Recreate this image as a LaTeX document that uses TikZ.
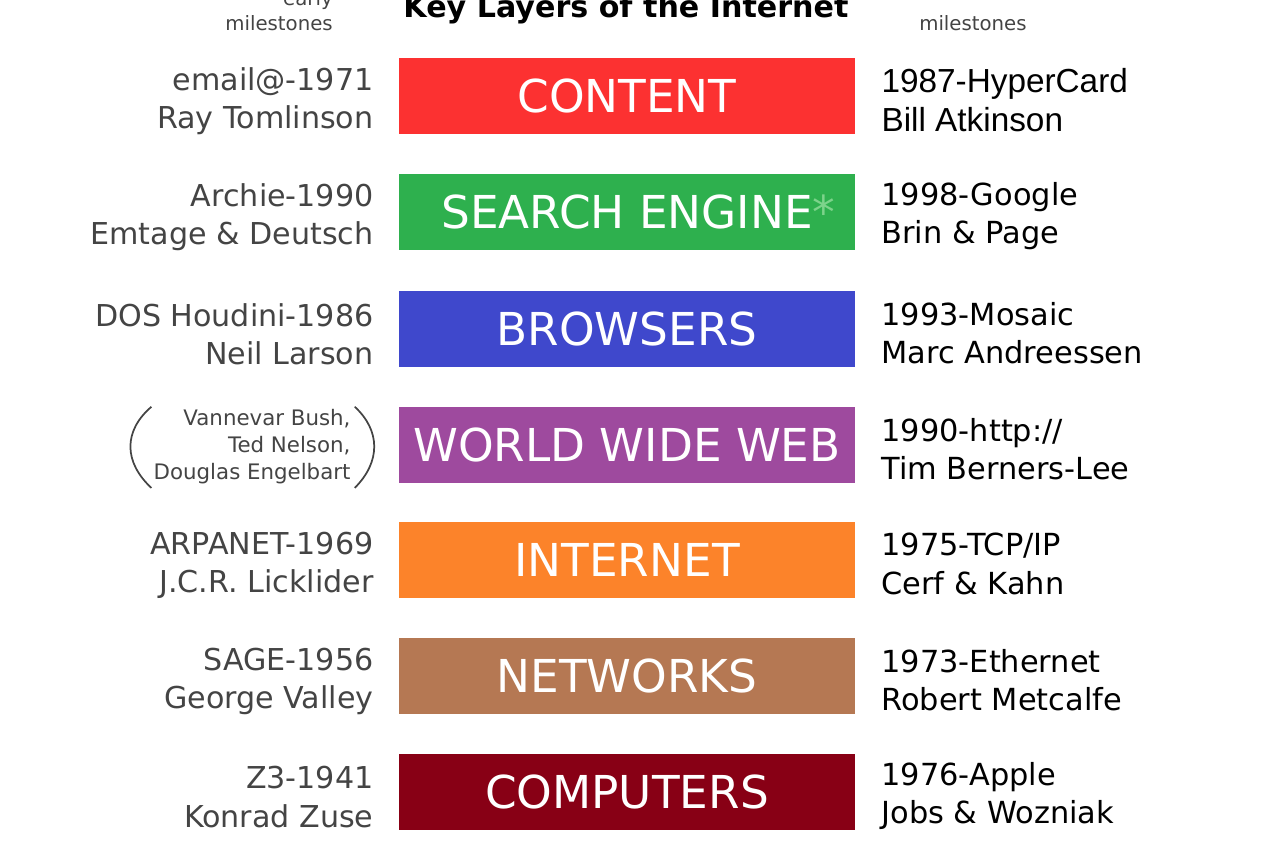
\documentclass[tikz,border=0pt]{standalone}
\usepackage{fontspec}
\setmainfont{DejaVu Sans}
\newfontfamily\arialfont{Liberation Sans}
\usepackage{xcolor}
\usetikzlibrary{positioning}

\definecolor{contentred}{HTML}{FC3131}
\definecolor{searchgreen}{HTML}{2EB04E}
\definecolor{starlight}{HTML}{7DD38B}
\definecolor{browserblue}{HTML}{3F48CC}
\definecolor{webpurple}{HTML}{9E4A9E}
\definecolor{netorange}{HTML}{FC832A}
\definecolor{networkbrown}{HTML}{B57853}
\definecolor{computerred}{HTML}{880015}
\definecolor{earlygray}{HTML}{444444}

\tikzset{
  layer/.style={minimum width=342pt,minimum height=57pt,inner sep=0pt,
    text=white,font=\fontsize{34}{40}\selectfont},
  early/.style={left=18.75pt of #1,align=right,inner sep=0pt,yshift=-4pt,
    text=earlygray,font=\fontsize{22.6}{29}\selectfont},
  later/.style={right=19.5pt of #1,align=left,inner sep=0pt,yshift=-3pt,
    text=black,font=\fontsize{22.8}{29}\selectfont},
  paren/.style={draw=earlygray,line width=1.3pt},
}

\begin{document}
\begin{tikzpicture}[x=0.75pt,y=-0.75pt]
\useasboundingbox (0,0) rectangle (1280,853);

% headings
\node[anchor=base,inner sep=0pt,font=\bfseries\fontsize{22.6}{26}\selectfont] (title) at (626,17) {Key Layers of the Internet};
\node[anchor=base east,align=right,inner sep=0pt,text=earlygray,font=\fontsize{14.8}{19.5}\selectfont] (earlyhead) at (333,31) {early\\milestones};
\node[anchor=base west,inner sep=0pt,text=earlygray,font=\fontsize{14.8}{19.5}\selectfont] (laterhead) at (919,31) {milestones};

% the seven layers
\node[layer,fill=contentred] (content) at (627,96) {CONTENT};
\node[layer,fill=searchgreen] (search) at (627,212) {SEARCH ENGINE\rlap{\textcolor{starlight}{*}}};
\node[layer,fill=browserblue] (browsers) at (627,329) {BROWSERS};
\node[layer,fill=webpurple] (www) at (627,445) {WORLD WIDE WEB};
\node[layer,fill=netorange] (internet) at (627,560) {INTERNET};
\node[layer,fill=networkbrown] (networks) at (627,676) {NETWORKS};
\node[layer,fill=computerred] (computers) at (627,792) {COMPUTERS};

% early milestones
\node[early=content] (email) {email@-1971\\Ray Tomlinson};
\node[early=search] (archie) {Archie-1990\\Emtage \& Deutsch};
\node[early=browsers] (houdini) {DOS Houdini-1986\\Neil Larson};
\node[early=internet] (arpanet) {ARPANET-1969\\J.C.R. Licklider};
\node[early=networks] (sage) {SAGE-1956\\George Valley};
\node[early=computers] (zthree) {Z3-1941\\Konrad Zuse};
\node[left=36pt of www,align=right,inner sep=0pt,yshift=-1pt,text=earlygray,
  font=\fontsize{16}{20.25}\selectfont] (pioneers) {Vannevar Bush,\\Ted Nelson,\\Douglas Engelbart};
\draw[paren] ([shift={(-2,-2)}]pioneers.north west) .. controls ([shift={(-30,22)}]pioneers.north west)
  and ([shift={(-30,-22)}]pioneers.south west) .. ([shift={(-2,4)}]pioneers.south west);
\draw[paren] ([shift={(4,-2)}]pioneers.north east) .. controls ([shift={(30,22)}]pioneers.north east)
  and ([shift={(30,-22)}]pioneers.south east) .. ([shift={(4,4)}]pioneers.south east);

% later milestones
\node[later=content,font=\arialfont\fontsize{25}{29}\selectfont] (hypercard) {1987-HyperCard\\Bill Atkinson};
\node[later=search] (google) {1998-Google\\Brin \& Page};
\node[later=browsers] (mosaic) {1993-Mosaic\\Marc Andreessen};
\node[later=www] (http) {1990-http://\\Tim Berners-Lee};
\node[later=internet] (tcpip) {1975-TCP/IP\\Cerf \& Kahn};
\node[later=networks] (ethernet) {1973-Ethernet\\Robert Metcalfe};
\node[later=computers] (apple) {1976-Apple\\Jobs \& Wozniak};
\end{tikzpicture}
\end{document}
